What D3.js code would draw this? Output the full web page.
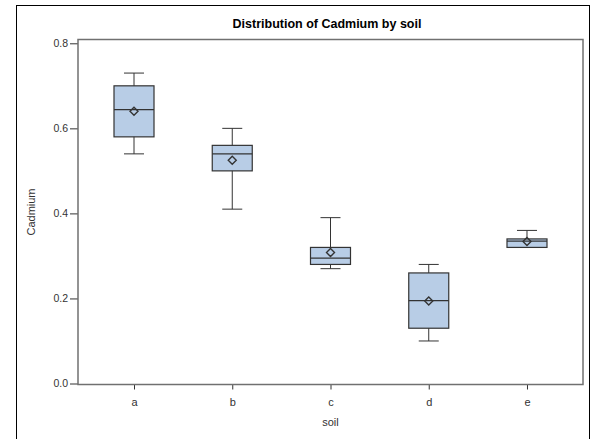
<!DOCTYPE html>
<html>
<head>
<meta charset="utf-8">
<script src="https://cdn.jsdelivr.net/npm/d3@7"></script>
<style>
    body { margin: 0; background: #fff; }
    text { font-family: "Liberation Sans", Arial, sans-serif; }
</style>
</head>
<body>
<div id="chart"></div>
<script>
// values
var categories = ['a', 'b', 'c', 'd', 'e'],
    whiskerLow = [0.54, 0.41, 0.27, 0.10, 0.32],
    boxLow = [0.58, 0.50, 0.28, 0.13, 0.32],
    medians = [0.644, 0.54, 0.295, 0.195, 0.335],
    boxHigh = [0.70, 0.56, 0.32, 0.26, 0.34],
    whiskerHigh = [0.73, 0.60, 0.39, 0.28, 0.36],
    means = [0.64, 0.525, 0.308, 0.194, 0.334],
    yTicks = [0, 0.2, 0.4, 0.6, 0.8];

var width = 595,
    height = 439,
    plotLeft = 78,
    plotRight = 583,
    plotTop = 39.5,
    plotBottom = 384.5,
    boxWidth = 40,
    capWidth = 20,
    ink = '#333';

var svg = d3.select('#chart').append('svg')
    .attr('width', width)
    .attr('height', height);

// outer border (bottom runs off the picture)
svg.append('rect')
    .attr('x', 16.5)
    .attr('y', 5.5)
    .attr('width', 573)
    .attr('height', 460)
    .attr('fill', 'none')
    .attr('stroke', '#000')
    .attr('stroke-width', 1);

var xScale = d3.scalePoint()
        .domain(categories)
        .range([plotLeft, plotRight])
        .padding(0.57),
    yScale = d3.scaleLinear()
        .domain([0, 0.8])
        .range([383.5, 43.3]);

var xAxis = d3.axisBottom(xScale)
        .tickSize(5)
        .tickSizeOuter(0),
    yAxis = d3.axisLeft(yScale)
        .tickValues(yTicks)
        .tickFormat(d3.format('.1f'))
        .tickSize(8)
        .tickSizeOuter(0);

var xx = svg.append('g')
    .attr('transform', 'translate(0,' + plotBottom + ')')
    .call(xAxis);
xx.select('.domain').remove();
xx.selectAll('line').attr('stroke', ink);
xx.selectAll('text')
    .attr('dy', null)
    .attr('y', 21)
    .attr('fill', ink)
    .style('font-size', '11px');

var yy = svg.append('g')
    .attr('transform', 'translate(' + plotLeft + ',0)')
    .call(yAxis);
yy.select('.domain').remove();
yy.selectAll('line').attr('stroke', ink);
yy.selectAll('text')
    .attr('x', -10)
    .attr('fill', ink)
    .style('font-size', '10.5px');

// plot frame
svg.append('rect')
    .attr('x', plotLeft)
    .attr('y', plotTop)
    .attr('width', plotRight - plotLeft)
    .attr('height', plotBottom - plotTop)
    .attr('fill', 'none')
    .attr('stroke', '#707070')
    .attr('stroke-width', 1.5);

var boxes = svg.append('g').selectAll('.box')
    .data(categories)
    .enter()
    .append('g')
    .attr('class', 'box')
    .attr('transform', function(d) { return 'translate(' + xScale(d) + ',0)'; });

// whiskers
boxes.append('line')
    .attr('y1', function(d, i) { return yScale(whiskerLow[i]); })
    .attr('y2', function(d, i) { return yScale(whiskerHigh[i]); })
    .attr('stroke', ink);

boxes.selectAll('.cap')
    .data(function(d, i) { return [whiskerLow[i], whiskerHigh[i]]; })
    .enter()
    .append('line')
    .attr('class', 'cap')
    .attr('x1', -capWidth / 2)
    .attr('x2', capWidth / 2)
    .attr('y1', function(v) { return yScale(v); })
    .attr('y2', function(v) { return yScale(v); })
    .attr('stroke', ink);

boxes.append('rect')
    .attr('x', -boxWidth / 2)
    .attr('y', function(d, i) { return yScale(boxHigh[i]); })
    .attr('width', boxWidth)
    .attr('height', function(d, i) { return yScale(boxLow[i]) - yScale(boxHigh[i]); })
    .attr('fill', '#b8cde6')
    .attr('stroke', ink)
    .attr('stroke-width', 1.2);

boxes.append('line')
    .attr('x1', -boxWidth / 2)
    .attr('x2', boxWidth / 2)
    .attr('y1', function(d, i) { return yScale(medians[i]); })
    .attr('y2', function(d, i) { return yScale(medians[i]); })
    .attr('stroke', ink)
    .attr('stroke-width', 1.2);

// mean markers
boxes.append('path')
    .attr('transform', function(d, i) { return 'translate(0,' + yScale(means[i]) + ')'; })
    .attr('d', 'M0,-4L4,0L0,4L-4,0Z')
    .attr('fill', 'none')
    .attr('stroke', ink)
    .attr('stroke-width', 1.4);

svg.append('text')
    .attr('x', 327)
    .attr('y', 28)
    .attr('text-anchor', 'middle')
    .style('font-size', '12.5px')
    .style('font-weight', 'bold')
    .text('Distribution of Cadmium by soil');

svg.append('text')
    .attr('x', (plotLeft + plotRight) / 2)
    .attr('y', 426)
    .attr('text-anchor', 'middle')
    .attr('fill', ink)
    .style('font-size', '11px')
    .text('soil');

svg.append('text')
    .attr('transform', 'translate(35,' + (plotTop + plotBottom) / 2 + ') rotate(-90)')
    .attr('text-anchor', 'middle')
    .attr('fill', ink)
    .style('font-size', '11px')
    .text('Cadmium');
</script>
</body>
</html>
